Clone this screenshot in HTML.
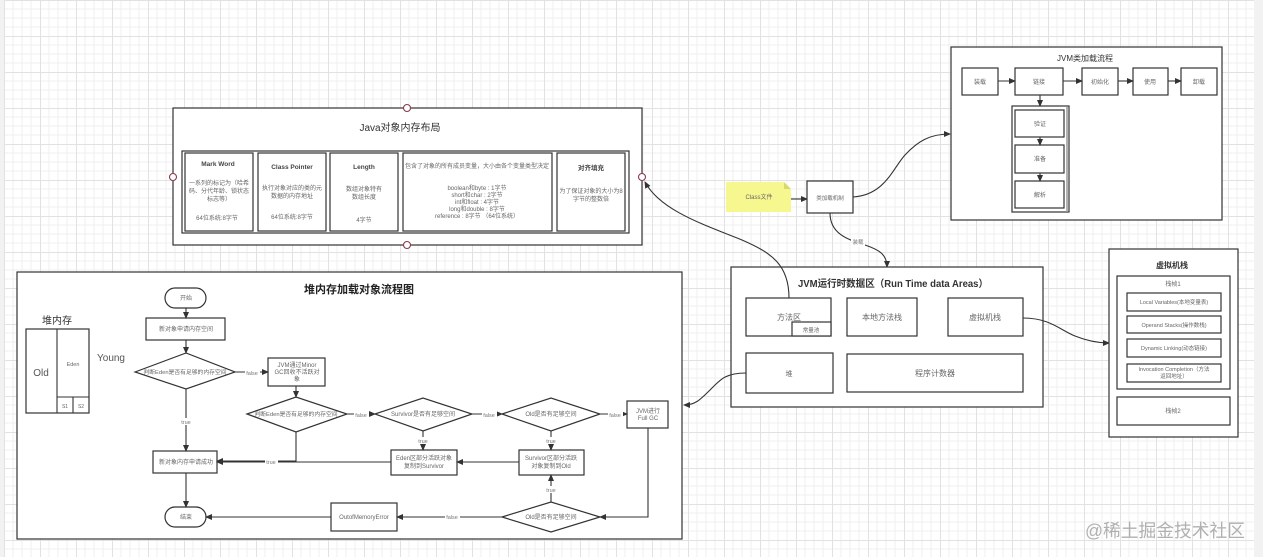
<!DOCTYPE html>
<html><head><meta charset="utf-8"><style>
html,body{margin:0;padding:0;background:#f2f2f2;}
svg{display:block;}
text{font-family:"Liberation Sans","Noto Sans CJK SC",sans-serif;}
.t{font-size:6px;fill:#666;text-anchor:middle;}
.b{fill:#fff;stroke:#333;stroke-width:1.2;}
.l{fill:none;stroke:#333;stroke-width:1.1;}
.lb{font-size:5.5px;fill:#777;text-anchor:middle;}
</style></head><body>
<svg width="1263" height="557" viewBox="0 0 1263 557" xmlns="http://www.w3.org/2000/svg">
<defs>
<pattern id="g" x="4" y="0" width="36" height="36" patternUnits="userSpaceOnUse">
<rect width="36" height="36" fill="#fff"/>
<path d="M9,0V36M18,0V36M27,0V36M0,9H36M0,18H36M0,27H36" stroke="#efefef" stroke-width="1"/>
<path d="M0.5,0V36M0,0.5H36" stroke="#e2e2e2" stroke-width="1"/>
</pattern>
<marker id="a" markerWidth="7" markerHeight="6" refX="6" refY="3" orient="auto" markerUnits="userSpaceOnUse"><path d="M0,0 L7,3 L0,6 z" fill="#333"/></marker>
</defs>
<rect x="0" y="0" width="1263" height="557" fill="#f2f2f2"/>
<rect x="4" y="0" width="1250" height="557" fill="url(#g)"/>

<!-- Java object layout -->
<rect class="b" x="173" y="108" width="469" height="137"/>
<text x="400" y="131" style="font-size:10px;fill:#333;text-anchor:middle">Java对象内存布局</text>
<rect class="b" x="182" y="151" width="447" height="82"/>
<g>
<rect class="b" x="185" y="153" width="68" height="78"/>
<rect class="b" x="258" y="153" width="68" height="78"/>
<rect class="b" x="330" y="153" width="68" height="78"/>
<rect class="b" x="403" y="153" width="149" height="78"/>
<rect class="b" x="557" y="153" width="68" height="78"/>
</g>
<text x="218" y="166" style="font-size:6.5px;fill:#444;text-anchor:middle;font-weight:bold">Mark Word</text>
<text class="t" x="219" y="185">一系列的标记为（哈希</text>
<text class="t" x="219" y="193">码、分代年龄、锁状态</text>
<text class="t" x="219" y="201">标志等）</text>
<text class="t" x="217" y="220">64位系统:8字节</text>
<text x="292" y="169" style="font-size:6.5px;fill:#444;text-anchor:middle;font-weight:bold">Class Pointer</text>
<text class="t" x="292" y="190">执行对象对应的类的元</text>
<text class="t" x="292" y="198">数据的内存地址</text>
<text class="t" x="292" y="219">64位系统:8字节</text>
<text x="364" y="169" style="font-size:6.5px;fill:#444;text-anchor:middle;font-weight:bold">Length</text>
<text class="t" x="364" y="191">数组对象特有</text>
<text class="t" x="364" y="199">数组长度</text>
<text class="t" x="364" y="222">4字节</text>
<text class="t" x="477" y="168">包含了对象的所有成员变量，大小由各个变量类型决定</text>
<text class="t" x="477" y="190">boolean和byte : 1字节</text>
<text class="t" x="477" y="197">short和char : 2字节</text>
<text class="t" x="477" y="204">int和float : 4字节</text>
<text class="t" x="477" y="211">long和double : 8字节</text>
<text class="t" x="477" y="218">reference : 8字节 （64位系统）</text>
<text x="591" y="170" style="font-size:6.5px;fill:#444;text-anchor:middle;font-weight:bold">对齐填充</text>
<text class="t" x="591" y="193">为了保证对象的大小为8</text>
<text class="t" x="591" y="201">字节的整数倍</text>
<g fill="#fff" stroke="#8b3a4a" stroke-width="1.1">
<circle cx="407" cy="108" r="3.5"/><circle cx="407" cy="245" r="3.5"/>
<circle cx="173" cy="177" r="3.5"/><circle cx="642" cy="177" r="3.5"/>
</g>

<!-- JVM class loading -->
<rect class="b" x="951" y="47" width="271" height="173"/>
<text x="1085" y="61" style="font-size:8px;fill:#333;text-anchor:middle">JVM类加载流程</text>
<rect class="b" x="962" y="68" width="36" height="27"/>
<rect class="b" x="1015" y="68" width="48" height="27"/>
<rect class="b" x="1082" y="68" width="36" height="27"/>
<rect class="b" x="1133" y="68" width="35" height="27"/>
<rect class="b" x="1181" y="68" width="36" height="27"/>
<text class="t" x="980" y="84">装载</text>
<text class="t" x="1039" y="84">链接</text>
<text class="t" x="1100" y="84">初始化</text>
<text class="t" x="1150" y="84">使用</text>
<text class="t" x="1199" y="84">卸载</text>
<path class="l" d="M998,81H1015" marker-end="url(#a)"/>
<path class="l" d="M1063,81H1082" marker-end="url(#a)"/>
<path class="l" d="M1118,81H1133" marker-end="url(#a)"/>
<path class="l" d="M1168,81H1181" marker-end="url(#a)"/>
<rect class="b" x="1012" y="106" width="57" height="106"/>
<line x1="1067" y1="107" x2="1067" y2="212" stroke="#999" stroke-width="1.5"/>
<rect class="b" x="1015" y="110" width="49" height="27"/>
<rect class="b" x="1015" y="145" width="49" height="28"/>
<rect class="b" x="1015" y="181" width="49" height="27"/>
<text class="t" x="1040" y="126">验证</text>
<text class="t" x="1040" y="161">准备</text>
<text class="t" x="1040" y="197">解析</text>
<path class="l" d="M1040,95V106" marker-end="url(#a)"/>
<path class="l" d="M1040,137V145" marker-end="url(#a)"/>
<path class="l" d="M1040,173V181" marker-end="url(#a)"/>

<!-- Class file / loader -->
<path d="M726,182H784L791,189V212H726Z" fill="#f7f78f"/>
<path d="M784,182L791,189H784Z" fill="#d8d870"/>
<text class="t" x="759" y="199">Class文件</text>
<path class="l" d="M791,199H807" marker-end="url(#a)"/>
<rect class="b" x="807" y="181" width="46" height="32"/>
<text x="830" y="200" style="font-size:5.5px;fill:#666;text-anchor:middle">类加载机制</text>
<path class="l" d="M853,197C885,195 893,168 905,155C918,141 930,134 950,134" marker-end="url(#a)"/>
<path class="l" d="M830,213C830,235 850,240 865,245C880,250 887,255 887,267" marker-end="url(#a)"/>
<rect x="851" y="238" width="14" height="8" fill="#fff"/>
<text class="lb" x="858" y="244">装载</text>

<!-- Runtime data areas -->
<rect class="b" x="731" y="267" width="312" height="140"/>
<text x="893" y="287" style="font-size:10px;fill:#333;text-anchor:middle;font-weight:bold" textLength="190" lengthAdjust="spacingAndGlyphs">JVM运行时数据区（Run Time data Areas）</text>
<rect class="b" x="746" y="298" width="85" height="38"/>
<rect class="b" x="792" y="322" width="39" height="14"/>
<text x="789" y="320" style="font-size:8px;fill:#666;text-anchor:middle">方法区</text>
<text x="811" y="332" style="font-size:5.5px;fill:#666;text-anchor:middle">常量池</text>
<rect class="b" x="847" y="298" width="70" height="38"/>
<text x="882" y="320" style="font-size:8px;fill:#666;text-anchor:middle">本地方法栈</text>
<rect class="b" x="948" y="298" width="75" height="38"/>
<text x="985" y="320" style="font-size:8px;fill:#666;text-anchor:middle">虚拟机栈</text>
<rect class="b" x="746" y="353" width="87" height="40"/>
<text x="789" y="376" style="font-size:7px;fill:#666;text-anchor:middle">堆</text>
<rect class="b" x="847" y="354" width="176" height="38"/>
<text x="935" y="376" style="font-size:8px;fill:#666;text-anchor:middle">程序计数器</text>
<path class="l" d="M789,298C789,265 772,253 742,240C702,224 660,210 645,182" marker-end="url(#a)"/>
<path class="l" d="M746,373C725,373 720,380 710,390C700,400 695,405 684,405" marker-end="url(#a)"/>
<path class="l" d="M1023,318C1050,318 1060,330 1075,336C1090,342 1100,343 1109,343" marker-end="url(#a)"/>

<!-- VM stack -->
<rect class="b" x="1109" y="249" width="129" height="188"/>
<text x="1172" y="268" style="font-size:8px;fill:#333;text-anchor:middle;font-weight:bold">虚拟机栈</text>
<rect class="b" x="1117" y="276" width="113" height="113"/>
<text class="t" x="1173" y="286">栈帧1</text>
<rect class="b" x="1127" y="293" width="94" height="18"/>
<rect class="b" x="1127" y="316" width="94" height="17"/>
<rect class="b" x="1127" y="339" width="94" height="18"/>
<rect class="b" x="1127" y="364" width="94" height="18"/>
<text x="1174" y="304" style="font-size:5.5px;fill:#666;text-anchor:middle">Local Variables(本地变量表)</text>
<text x="1174" y="327" style="font-size:5.5px;fill:#666;text-anchor:middle">Operand Stacks(操作数栈)</text>
<text x="1174" y="350" style="font-size:5.5px;fill:#666;text-anchor:middle">Dynamic Linking(动态链接)</text>
<text x="1174" y="371" style="font-size:5.5px;fill:#666;text-anchor:middle">Invocation Completion（方法</text>
<text x="1174" y="378" style="font-size:5.5px;fill:#666;text-anchor:middle">返回地址）</text>
<rect class="b" x="1117" y="397" width="113" height="28"/>
<text class="t" x="1173" y="413">栈帧2</text>

<!-- Heap flow chart -->
<rect class="b" x="17" y="272" width="665" height="267"/>
<text x="359" y="293" style="font-size:11px;fill:#222;text-anchor:middle;font-weight:bold">堆内存加载对象流程图</text>
<text x="57" y="324" style="font-size:10px;fill:#333;text-anchor:middle">堆内存</text>
<rect class="b" x="26" y="329" width="63" height="84"/>
<path class="l" d="M57,329V413M57,397H89M73,397V413"/>
<text x="41" y="376" style="font-size:10px;fill:#555;text-anchor:middle">Old</text>
<text x="73" y="366" style="font-size:5.5px;fill:#666;text-anchor:middle">Eden</text>
<text x="65" y="408" style="font-size:5px;fill:#666;text-anchor:middle">S1</text>
<text x="81" y="408" style="font-size:5px;fill:#666;text-anchor:middle">S2</text>
<text x="97" y="361" style="font-size:10px;fill:#555">Young</text>

<rect class="b" x="165" y="288" width="41" height="20" rx="10"/>
<text class="t" x="186" y="300">开始</text>
<rect class="b" x="146" y="318" width="79" height="22"/>
<text class="t" x="186" y="331">新对象申请内存空间</text>
<polygon class="b" points="135,372 186,353 235,372 186,389"/>
<text x="185" y="374" style="font-size:5.8px;fill:#666;text-anchor:middle">判断Eden是否有足够的内存空间</text>
<rect class="b" x="268" y="358" width="57" height="28"/>
<text class="t" x="297" y="367">JVM通过Minor</text>
<text class="t" x="297" y="374">GC回收不活跃对</text>
<text class="t" x="297" y="381">象</text>
<polygon class="b" points="247,414 296,397 347,414 296,432"/>
<text x="296" y="416" style="font-size:5.8px;fill:#666;text-anchor:middle">判断Eden是否有足够的内存空间</text>
<rect class="b" x="153" y="451" width="64" height="22"/>
<text class="t" x="186" y="464">新对象内存申请成功</text>
<rect class="b" x="165" y="507" width="41" height="20" rx="10"/>
<text class="t" x="186" y="519">结束</text>

<polygon class="b" points="375,414 423,398 472,414 423,431"/>
<text class="t" x="423" y="416">Survivor是否有足够空间</text>
<polygon class="b" points="502,414 551,398 600,414 551,431"/>
<text class="t" x="551" y="416">Old是否有足够空间</text>
<rect class="b" x="627" y="401" width="41" height="27"/>
<text class="t" x="648" y="413">JVM进行</text>
<text class="t" x="648" y="420">Full GC</text>
<rect class="b" x="391" y="450" width="66" height="25"/>
<text class="t" x="424" y="460">Eden区部分活跃对象</text>
<text class="t" x="424" y="468">复制到Survivor</text>
<rect class="b" x="519" y="450" width="65" height="25"/>
<text class="t" x="551" y="460">Survivor区部分活跃</text>
<text class="t" x="551" y="468">对象复制到Old</text>
<polygon class="b" points="502,517 551,502 600,517 551,532"/>
<text class="t" x="551" y="519">Old是否有足够空间</text>
<rect class="b" x="331" y="503" width="66" height="28"/>
<text class="t" x="364" y="519">OutofMemoryError</text>

<g>
<path class="l" d="M186,308V318" marker-end="url(#a)"/>
<path class="l" d="M186,340V353" marker-end="url(#a)"/>
<path class="l" d="M235,372H268" marker-end="url(#a)"/>
<path class="l" d="M296,386V397" marker-end="url(#a)"/>
<path class="l" d="M186,389V451" marker-end="url(#a)"/>
<path class="l" d="M296,432V461H217" marker-end="url(#a)"/>
<path class="l" d="M186,473V507" marker-end="url(#a)"/>
<path class="l" d="M347,414H375" marker-end="url(#a)"/>
<path class="l" d="M472,414H502" marker-end="url(#a)"/>
<path class="l" d="M600,414H627" marker-end="url(#a)"/>
<path class="l" d="M423,431V450" marker-end="url(#a)"/>
<path class="l" d="M551,431V450" marker-end="url(#a)"/>
<path class="l" d="M519,462H457" marker-end="url(#a)"/>
<path class="l" d="M391,462H217" marker-end="url(#a)"/>
<path class="l" d="M648,428V517H600" marker-end="url(#a)"/>
<path class="l" d="M551,502V475" marker-end="url(#a)"/>
<path class="l" d="M502,517H397" marker-end="url(#a)"/>
<path class="l" d="M331,517H206" marker-end="url(#a)"/>
</g>
<g fill="#fff">
<rect x="245" y="369" width="15" height="7"/>
<rect x="354" y="411" width="15" height="7"/>
<rect x="482" y="411" width="15" height="7"/>
<rect x="608" y="411" width="15" height="7"/>
<rect x="180" y="418" width="13" height="7"/>
<rect x="265" y="458" width="13" height="7"/>
<rect x="417" y="437" width="13" height="7"/>
<rect x="545" y="437" width="13" height="7"/>
<rect x="545" y="486" width="13" height="7"/>
<rect x="445" y="514" width="15" height="7"/>
</g>
<text class="lb" x="252" y="375">false</text>
<text class="lb" x="361" y="417">false</text>
<text class="lb" x="489" y="417">false</text>
<text class="lb" x="615" y="417">false</text>
<text class="lb" x="186" y="424">true</text>
<text class="lb" x="271" y="464">true</text>
<text class="lb" x="423" y="443">true</text>
<text class="lb" x="551" y="443">true</text>
<text class="lb" x="551" y="492">true</text>
<text class="lb" x="452" y="519">false</text>

<text x="1085" y="537" style="font-size:18px;fill:#b0b0b0" textLength="160" lengthAdjust="spacingAndGlyphs">@稀土掘金技术社区</text>
</svg>
</body></html>
